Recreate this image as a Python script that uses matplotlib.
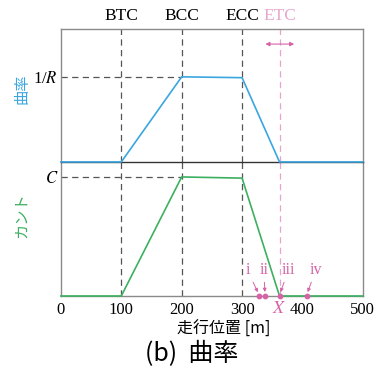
import numpy as np
import matplotlib
matplotlib.use("Agg")
import matplotlib.pyplot as plt
from matplotlib import transforms

plt.rcParams['font.family'] = ['Liberation Serif', 'Noto Sans CJK JP']
plt.rcParams['mathtext.fontset'] = 'stix'

# data
pos = [0, 100, 200, 300, 362, 500]
curv = [0, 0, 1.0, 0.99, 0, 0]
cant = [0, 0, 1.0, 0.99, 0, 0]
events = [100, 200, 300]
event_names = ['BTC', 'BCC', 'ECC']
etc_x = 362
pts_x = [328, 338, 362, 407]
pts_lab = ['i', 'ii', 'iii', 'iv']
lab_x = [309, 336, 377, 422]
xticks = [0, 100, 200, 300, 400, 500]

BLUE = '#3aa6e0'
GREEN = '#3cb060'
PINK = '#d563a6'
LPINK = '#e6a6cc'
GRAY = '#555555'
SPINE = '#8a8a8a'

fig = plt.figure(figsize=(3.76, 3.74), dpi=100)
ax2 = fig.add_axes([0.162, 0.2086, 0.803, 0.3584])
ax1 = fig.add_axes([0.162, 0.567, 0.803, 0.355])
ax1.set_zorder(3)
ax1.patch.set_alpha(0)

for ax in (ax1, ax2):
    ax.set_xlim(0, 500)
    for s in ax.spines.values():
        s.set_color(SPINE)
        s.set_linewidth(1.0)
    ax.tick_params(length=0, labelsize=12, pad=4)
    ax.tick_params(axis='y', pad=2)
    for x in events:
        ax.axvline(x, color=GRAY, ls=(0, (5, 3.5)), lw=0.9)
    ax.axvline(etc_x, color=LPINK, ls=(0, (5, 3.5)), lw=0.9)

ax1.set_ylim(0, 1.56)
ax2.set_ylim(0, 1.126)
ax1.spines['bottom'].set_color('#333333')
ax2.spines['top'].set_visible(False)

# curvature
ax1.plot([0, 200], [1, 1], color=GRAY, ls=(0, (5, 3.5)), lw=0.9)
ax1.plot(pos, curv, color=BLUE, lw=1.2, clip_on=False, zorder=5)
ax1.set_xticks([])
ax1.set_yticks([1])
ax1.set_yticklabels(['1/$R$'])
ax1.set_ylabel('曲率', color=BLUE, family=['Noto Sans CJK JP'], fontsize=11)
ax1.yaxis.set_label_coords(-0.102, 0.55)

trans = transforms.blended_transform_factory(ax1.transData, ax1.transAxes)
for x, name in zip(events, event_names):
    ax1.text(x, 1.04, name, transform=trans, ha='center', va='bottom', fontsize=12.5)
ax1.text(etc_x, 1.04, 'ETC', transform=trans, ha='center', va='bottom', fontsize=12.5, color=LPINK)
ax1.annotate('', xy=(334, 1.385), xytext=(391, 1.385),
             arrowprops=dict(arrowstyle='<|-|>', color=PINK, lw=0.8, mutation_scale=6))

# cant
ax2.plot([0, 200], [1, 1], color=GRAY, ls=(0, (5, 3.5)), lw=0.9)
ax2.plot(pos, cant, color=GREEN, lw=1.2, clip_on=False, zorder=5)
ax2.set_yticks([1])
ax2.set_yticklabels(['$C$'])
ax2.set_ylabel('カント', color=GREEN, family=['Noto Sans CJK JP'], fontsize=11)
ax2.yaxis.set_label_coords(-0.102, 0.6)
ax2.set_xticks(xticks)
ax2.set_xticklabels([str(v) for v in xticks])

ax2.scatter(pts_x, [0] * len(pts_x), s=10, color=PINK, zorder=6, clip_on=False)
for px, lx, lab in zip(pts_x, lab_x, pts_lab):
    ax2.annotate(lab, xy=(px, 0.01), xytext=(lx, 0.15), color=PINK, fontsize=11.5,
                 ha='center', va='bottom',
                 arrowprops=dict(arrowstyle='-|>', color=PINK, lw=0.7, mutation_scale=5,
                                 shrinkA=1, shrinkB=2))
ax2.text(etc_x, -0.035, '$X$', color=PINK, ha='center', va='top', fontsize=13)

ax2.set_xlabel('走行位置 [m]', family=['Noto Sans CJK JP', 'Liberation Serif'], fontsize=11.5)
ax2.xaxis.set_label_coords(0.54, -0.18)
fig.text(0.51, 0.054, '(b)  曲率', ha='center', va='center', fontsize=18,
         family=['Noto Sans CJK JP'])

fig.savefig('out.png', dpi=100)
